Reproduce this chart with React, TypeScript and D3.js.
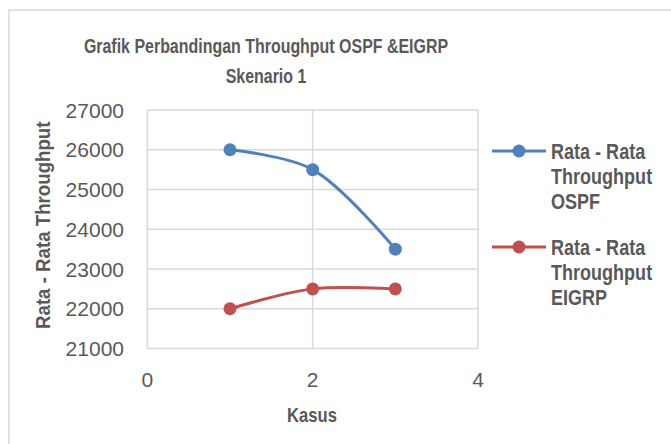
import React from 'react';
import * as d3 from 'd3';

// values
const kasus = [1, 2, 3];
const ospf = [26000, 25500, 23500];
const eigrp = [22000, 22500, 22500];
const yTicks = [21000, 22000, 23000, 24000, 25000, 26000, 27000];
const xTicks = [0, 2, 4];

const series = [
  { name: ['Rata - Rata', 'Throughput', 'OSPF'], values: ospf, color: '#4f81bd' },
  { name: ['Rata - Rata', 'Throughput', 'EIGRP'], values: eigrp, color: '#c0504d' },
];

const W = 671;
const H = 444;
const TEXT = '#595959';
const GRID = '#d9d9d9';
const FONT = '"Liberation Sans", Arial, sans-serif';

// bold condensed label (no narrow face installed, so squeeze horizontally)
function Label(props: { x: number; y: number; size: number; sx: number; anchor?: string; rotate?: number; children: React.ReactNode }) {
  const { x, y, size, sx, anchor = 'start', rotate = 0 } = props;
  return (
    <text transform={`translate(${x},${y}) rotate(${rotate}) scale(${sx},1)`} textAnchor={anchor}
      fontFamily={FONT} fontWeight="bold" fontSize={size} fill={TEXT}>
      {props.children}
    </text>
  );
}

export default function App() {
  const x = d3.scaleLinear().domain([0, 4]).range([147.3, 478]);
  const y = d3.scaleLinear().domain([21000, 27000]).range([348.5, 110]);

  const line = d3.line<[number, number]>()
    .x(d => x(d[0]))
    .y(d => y(d[1]))
    .curve(d3.curveCatmullRom.alpha(0.5));

  return (
    <svg width={W} height={H} style={{ position: 'absolute', left: 0, top: 0 }}>
      <rect x={0} y={0} width={W} height={H} fill="#fff" />
      <rect x={9} y={10} width={W + 20} height={H + 20} fill="#fff" stroke={GRID} strokeWidth={1.5} />

      <Label x={266} y={53} size={21} sx={0.76} anchor="middle">Grafik Perbandingan Throughput OSPF &amp;EIGRP</Label>
      <Label x={266} y={83} size={21} sx={0.76} anchor="middle">Skenario 1</Label>

      {/* gridlines */}
      {yTicks.map(t => (
        <line key={'gy' + t} x1={x(0)} x2={x(4)} y1={y(t)} y2={y(t)} stroke={GRID} strokeWidth={1.5} />
      ))}
      {xTicks.map(t => (
        <line key={'gx' + t} x1={x(t)} x2={x(t)} y1={y(27000)} y2={y(21000)} stroke={GRID} strokeWidth={1.5} />
      ))}

      {/* tick labels */}
      {yTicks.map(t => (
        <text key={'ty' + t} x={124} y={y(t) + 7.5} textAnchor="end" fontFamily={FONT} fontSize={21} fill={TEXT}>
          {t}
        </text>
      ))}
      {xTicks.map(t => (
        <text key={'tx' + t} x={x(t)} y={387} textAnchor="middle" fontFamily={FONT} fontSize={21} fill={TEXT}>
          {t}
        </text>
      ))}

      <Label x={312} y={422} size={20} sx={0.83} anchor="middle">Kasus</Label>
      <Label x={50} y={(y(21000) + y(27000)) / 2 - 4} size={21} sx={0.89} anchor="middle" rotate={-90}>
        Rata - Rata Throughput
      </Label>

      {/* series */}
      {series.map(s => {
        const pts = kasus.map((k, i) => [k, s.values[i]] as [number, number]);
        return (
          <g key={s.name[2]}>
            <path d={line(pts) || ''} fill="none" stroke={s.color} strokeWidth={3} />
            {pts.map((p, i) => (
              <circle key={i} cx={x(p[0])} cy={y(p[1])} r={6.5} fill={s.color} />
            ))}
          </g>
        );
      })}

      {/* legend */}
      {series.map((s, i) => {
        const ly = 151 + i * 96;
        return (
          <g key={'lg' + i}>
            <line x1={492} x2={546} y1={ly} y2={ly} stroke={s.color} strokeWidth={3} />
            <circle cx={519} cy={ly} r={6.5} fill={s.color} />
            {s.name.map((n, j) => (
              <Label key={j} x={551} y={ly + 8 + j * 25} size={22} sx={0.82}>{n}</Label>
            ))}
          </g>
        );
      })}
    </svg>
  );
}
